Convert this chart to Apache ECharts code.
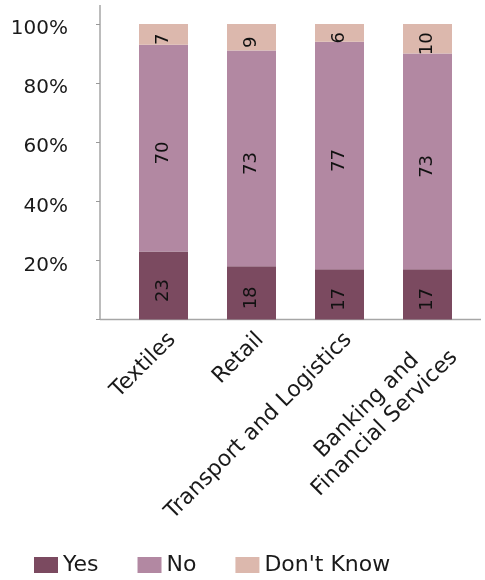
<!DOCTYPE html>
<html><head><meta charset="utf-8">
<script src="https://cdn.jsdelivr.net/npm/echarts@6/dist/echarts.min.js"></script>
<style>html,body{margin:0;padding:0;background:#fff}#c{width:485px;height:580px}</style>
</head><body><div id="c"></div>
<script>
var categories = ['Textiles', 'Retail', 'Transport and Logistics', 'Banking and\nFinancial Services'];
var yesValues = [23, 18, 17, 17];
var noValues = [70, 73, 77, 73];
var dkValues = [7, 9, 6, 10];
var seriesNames = ['Yes', 'No', "Don't Know"];
var seriesColors = ['#7b4a60', '#b288a2', '#dcb8ad'];
var yTicks = [0, 20, 40, 60, 80, 100];

var FONT = 'DejaVu Sans';
var TXT = '#1a1a1a';
var chart = echarts.init(document.getElementById('c'));
var lab = {show: true, position: 'inside', rotate: 90, offset: [-5, 0], color: '#111', fontSize: 18, fontFamily: 'DejaVu Sans'};
function mk(i, data) {
  return {name: seriesNames[i], type: 'bar', stack: 's', data: data, barWidth: 49,
    itemStyle: {color: seriesColors[i]}, label: lab};
}
chart.setOption({
  animation: false,
  grid: {left: 119.5, width: 352, top: 24, height: 295.5},
  legend: {left: 34, top: 554, padding: 0, itemWidth: 24, itemHeight: 16, itemGap: 39,
    textStyle: {fontSize: 22, fontFamily: FONT, color: TXT},
    data: seriesNames.map(function(n,i){return {name:n, icon:'rect'};})},
  xAxis: {type: 'category', data: categories,
    axisLine: {show: false}, axisTick: {show: false},
    axisLabel: {rotate: 45, fontSize: 22, fontFamily: FONT, color: TXT, margin: 8, lineHeight: 25,
      align: 'right', verticalAlign: 'top',
      formatter: function(v){ return v.split('\n').map(function(s){return '{c|' + s + '}';}).join('\n'); },
      rich: {c: {align: 'center', fontSize: 22, fontFamily: FONT, color: TXT, lineHeight: 25}}}},
  yAxis: {type: 'value', min: yTicks[0], max: yTicks[yTicks.length-1], interval: 20, offset: 19.5,
    splitLine: {show: false}, axisLine: {show: false},
    axisTick: {show: true, length: 4, lineStyle: {color: '#999'}},
    axisLabel: {fontSize: 20, fontFamily: FONT, color: TXT, margin: 32,
      formatter: function(v){ return yTicks.indexOf(v) > 0 ? '{t|' + v + '%}' : ''; },
      rich: {t: {fontSize: 20, fontFamily: FONT, color: TXT, padding: [10, 0, 0, 0]}}}},
  graphic: [
    {type: 'line', shape: {x1: 100, y1: 5, x2: 100, y2: 319.5}, style: {stroke: '#a6a6a6', lineWidth: 1.5}},
    {type: 'line', shape: {x1: 100, y1: 319.5, x2: 481, y2: 319.5}, style: {stroke: '#a6a6a6', lineWidth: 1.5}}
  ],
  series: [mk(0, yesValues), mk(1, noValues), mk(2, dkValues)]
});
</script></body></html>
